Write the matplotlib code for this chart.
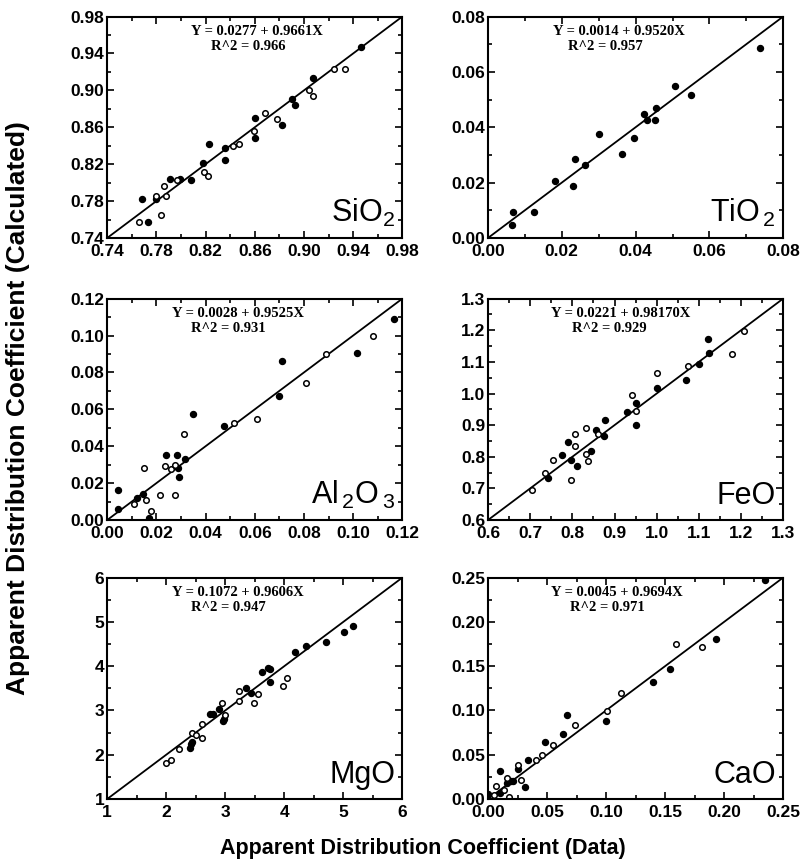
import numpy as np
import matplotlib.pyplot as plt
from matplotlib.ticker import FixedLocator, FormatStrFormatter

plt.rcParams['font.family'] = 'Liberation Sans'
plt.rcParams['mathtext.default'] = 'regular'

# SiO2 (cheios = simbolos preenchidos, abertos = circulos vazios)
sio2_cheio_x = [0.768, 0.773, 0.780, 0.791, 0.799, 0.808, 0.818, 0.823, 0.836, 0.836,
                0.860, 0.860, 0.882, 0.890, 0.893, 0.907, 0.946]
sio2_cheio_y = [0.782, 0.757, 0.782, 0.804, 0.804, 0.803, 0.821, 0.842, 0.837, 0.825,
                0.870, 0.848, 0.862, 0.891, 0.884, 0.913, 0.947]
sio2_aberto_x = [0.766, 0.780, 0.784, 0.786, 0.788, 0.797, 0.819, 0.822, 0.842, 0.847,
                 0.859, 0.868, 0.878, 0.904, 0.907, 0.924, 0.933]
sio2_aberto_y = [0.757, 0.786, 0.765, 0.796, 0.786, 0.803, 0.812, 0.807, 0.840, 0.842,
                 0.856, 0.875, 0.869, 0.900, 0.894, 0.923, 0.923]

# TiO2
tio2_cheio_x = [0.0065, 0.0068, 0.0126, 0.0181, 0.0229, 0.0235, 0.0262, 0.0302, 0.0362,
                0.0396, 0.0424, 0.0431, 0.0453, 0.0455, 0.0508, 0.0549, 0.0737]
tio2_cheio_y = [0.0046, 0.0094, 0.0094, 0.0205, 0.0188, 0.0286, 0.0265, 0.0376, 0.0304,
                0.0360, 0.0449, 0.0426, 0.0426, 0.0468, 0.0549, 0.0516, 0.0688]
tio2_aberto_x = []
tio2_aberto_y = []

# Al2O3
al2o3_cheio_x = [0.0044, 0.0044, 0.0121, 0.0144, 0.0171, 0.0240, 0.0284, 0.0290, 0.0288,
                 0.0315, 0.0349, 0.0473, 0.0699, 0.0710, 0.1014, 0.1164]
al2o3_cheio_y = [0.0163, 0.0058, 0.0119, 0.0139, 0.0011, 0.0351, 0.0351, 0.0232, 0.0282,
                 0.0331, 0.0572, 0.0507, 0.0670, 0.0860, 0.0907, 0.1088]
al2o3_aberto_x = [0.0110, 0.0151, 0.0158, 0.0178, 0.0215, 0.0236, 0.0258, 0.0277, 0.0277,
                  0.0311, 0.0516, 0.0610, 0.0808, 0.0888, 0.1082]
al2o3_aberto_y = [0.0087, 0.0281, 0.0110, 0.0051, 0.0138, 0.0291, 0.0277, 0.0299, 0.0138,
                  0.0467, 0.0527, 0.0547, 0.0744, 0.0901, 0.0995]

# FeO
feo_cheio_x = [0.742, 0.776, 0.790, 0.798, 0.810, 0.844, 0.856, 0.874, 0.877, 0.929,
               0.951, 0.951, 1.000, 1.070, 1.100, 1.122, 1.125]
feo_cheio_y = [0.732, 0.806, 0.848, 0.790, 0.770, 0.818, 0.885, 0.867, 0.915, 0.943,
               0.971, 0.899, 1.017, 1.044, 1.092, 1.172, 1.128]
feo_aberto_x = [0.705, 0.734, 0.755, 0.807, 0.806, 0.832, 0.832, 0.838, 0.796, 0.861,
                0.941, 0.951, 1.000, 1.074, 1.179, 1.206]
feo_aberto_y = [0.696, 0.749, 0.791, 0.872, 0.835, 0.890, 0.809, 0.786, 0.725, 0.872,
                0.996, 0.946, 1.065, 1.086, 1.124, 1.197]

# MgO
mgo_cheio_x = [2.41, 2.42, 2.44, 2.74, 2.79, 2.89, 2.96, 2.98, 3.35, 3.44,
               3.63, 3.72, 3.76, 3.76, 4.18, 4.36, 4.71, 5.01, 5.17]
mgo_cheio_y = [2.15, 2.24, 2.28, 2.91, 2.92, 3.04, 2.76, 2.81, 3.51, 3.40,
               3.87, 3.96, 3.93, 3.64, 4.32, 4.45, 4.54, 4.77, 4.91]
mgo_aberto_x = [1.99, 2.08, 2.22, 2.44, 2.51, 2.61, 2.61, 2.95, 2.99, 3.24,
                3.24, 3.48, 3.55, 3.97, 4.05]
mgo_aberto_y = [1.81, 1.87, 2.13, 2.48, 2.44, 2.70, 2.38, 3.16, 2.89, 3.44,
                3.21, 3.16, 3.36, 3.55, 3.74]

# CaO
cao_cheio_x = [0.000, 0.0098, 0.0104, 0.0162, 0.0196, 0.021, 0.0252, 0.0314, 0.0342,
               0.0485, 0.0636, 0.0667, 0.1003, 0.140, 0.154, 0.193, 0.235]
cao_cheio_y = [0.006, 0.0068, 0.0317, 0.0181, 0.020, 0.020, 0.034, 0.0136, 0.0445,
               0.0641, 0.0739, 0.0943, 0.0879, 0.132, 0.147, 0.181, 0.247]
cao_aberto_x = [0.005, 0.007, 0.0134, 0.0162, 0.0182, 0.0258, 0.028, 0.0406, 0.0454,
                0.0552, 0.0734, 0.1008, 0.1129, 0.159, 0.181]
cao_aberto_y = [0.005, 0.015, 0.0098, 0.0238, 0.0023, 0.0388, 0.0219, 0.0445, 0.050,
                0.0615, 0.0841, 0.0999, 0.1199, 0.175, 0.172]

nomes = ['SiO$_2$', 'TiO$_{\\,2}$', 'Al$_{\\,2}$O$_{\\,3}$', 'FeO', 'MgO', 'CaO']
equacoes = ['Y = 0.0277 + 0.9661X', 'Y = 0.0014 + 0.9520X', 'Y = 0.0028 + 0.9525X',
            'Y = 0.0221 + 0.98170X', 'Y = 0.1072 + 0.9606X', 'Y = 0.0045 + 0.9694X']
r2 = ['R^2 = 0.966', 'R^2 = 0.957', 'R^2 = 0.931', 'R^2 = 0.929', 'R^2 = 0.947', 'R^2 = 0.971']
limites = [(0.74, 0.98), (0.0, 0.08), (0.0, 0.12), (0.6, 1.3), (1, 6), (0.0, 0.25)]
passos = [0.04, 0.02, 0.02, 0.1, 1, 0.05]
formatos = ['%.2f', '%.2f', '%.2f', '%.1f', '%d', '%.2f']

dados = [(sio2_cheio_x, sio2_cheio_y, sio2_aberto_x, sio2_aberto_y),
         (tio2_cheio_x, tio2_cheio_y, tio2_aberto_x, tio2_aberto_y),
         (al2o3_cheio_x, al2o3_cheio_y, al2o3_aberto_x, al2o3_aberto_y),
         (feo_cheio_x, feo_cheio_y, feo_aberto_x, feo_aberto_y),
         (mgo_cheio_x, mgo_cheio_y, mgo_aberto_x, mgo_aberto_y),
         (cao_cheio_x, cao_cheio_y, cao_aberto_x, cao_aberto_y)]

# posicao do texto da equacao (x da linha 1, x da linha 2) em fracao do eixo
pos_eq = [(0.508, 0.478), (0.444, 0.397), (0.444, 0.41),
          (0.451, 0.41), (0.444, 0.41), (0.437, 0.403)]

fig = plt.figure(figsize=(8, 8.65), dpi=100)
esq = [0.134, 0.61]
base = [0.7249, 0.3988, 0.0763]
larg, alt = 0.369, 0.2560

for i in range(6):
    ax = fig.add_axes([esq[i % 2], base[i // 2], larg, alt])
    cx, cy, ox, oy = dados[i]
    lo, hi = limites[i]
    ax.plot([lo, hi], [lo, hi], color='black', linewidth=1.3)
    ax.plot(cx, cy, 'o', color='black', markersize=4.3, linestyle='none')
    ax.plot(ox, oy, 'o', markerfacecolor='white', markeredgecolor='black',
            markeredgewidth=1.1, markersize=4.0, linestyle='none')
    ax.set_xlim(lo, hi)
    ax.set_ylim(lo, hi)
    n = int(round((hi - lo) / passos[i]))
    maiores = lo + passos[i] * np.arange(n + 1)
    menores = lo + passos[i] / 2 * np.arange(2 * n + 1)
    for eixo in (ax.xaxis, ax.yaxis):
        eixo.set_major_locator(FixedLocator(maiores))
        eixo.set_minor_locator(FixedLocator(menores))
        eixo.set_major_formatter(FormatStrFormatter(formatos[i]))
    ax.tick_params(which='both', direction='in', top=True, right=True, width=1.2)
    ax.tick_params(which='major', length=5, labelsize=12.5, pad=2)
    ax.tick_params(axis='x', which='major', pad=4.5)
    ax.tick_params(which='minor', length=3)
    for t in ax.get_xticklabels() + ax.get_yticklabels():
        t.set_fontweight('bold')
    for s in ax.spines.values():
        s.set_linewidth(1.5)
    ax.text(pos_eq[i][0], 0.932, equacoes[i], transform=ax.transAxes, ha='center',
            va='center', fontsize=10.5, fontweight='bold', family='Liberation Serif')
    ax.text(pos_eq[i][1], 0.864, r2[i], transform=ax.transAxes, ha='center',
            va='center', fontsize=10.5, fontweight='bold', family='Liberation Serif')
    ax.text(0.975, 0.04, nomes[i], transform=ax.transAxes, ha='right', va='bottom',
            fontsize=22)

fig.text(0.528, 0.019, 'Apparent Distribution Coefficient (Data)', ha='center',
         va='center', fontsize=15.5, fontweight='bold')
fig.text(0.023, 0.528, 'Apparent Distribution Coefficient (Calculated)', ha='center',
         va='center', rotation=90, fontsize=19, fontweight='bold')

plt.savefig('out.png', dpi=100)
